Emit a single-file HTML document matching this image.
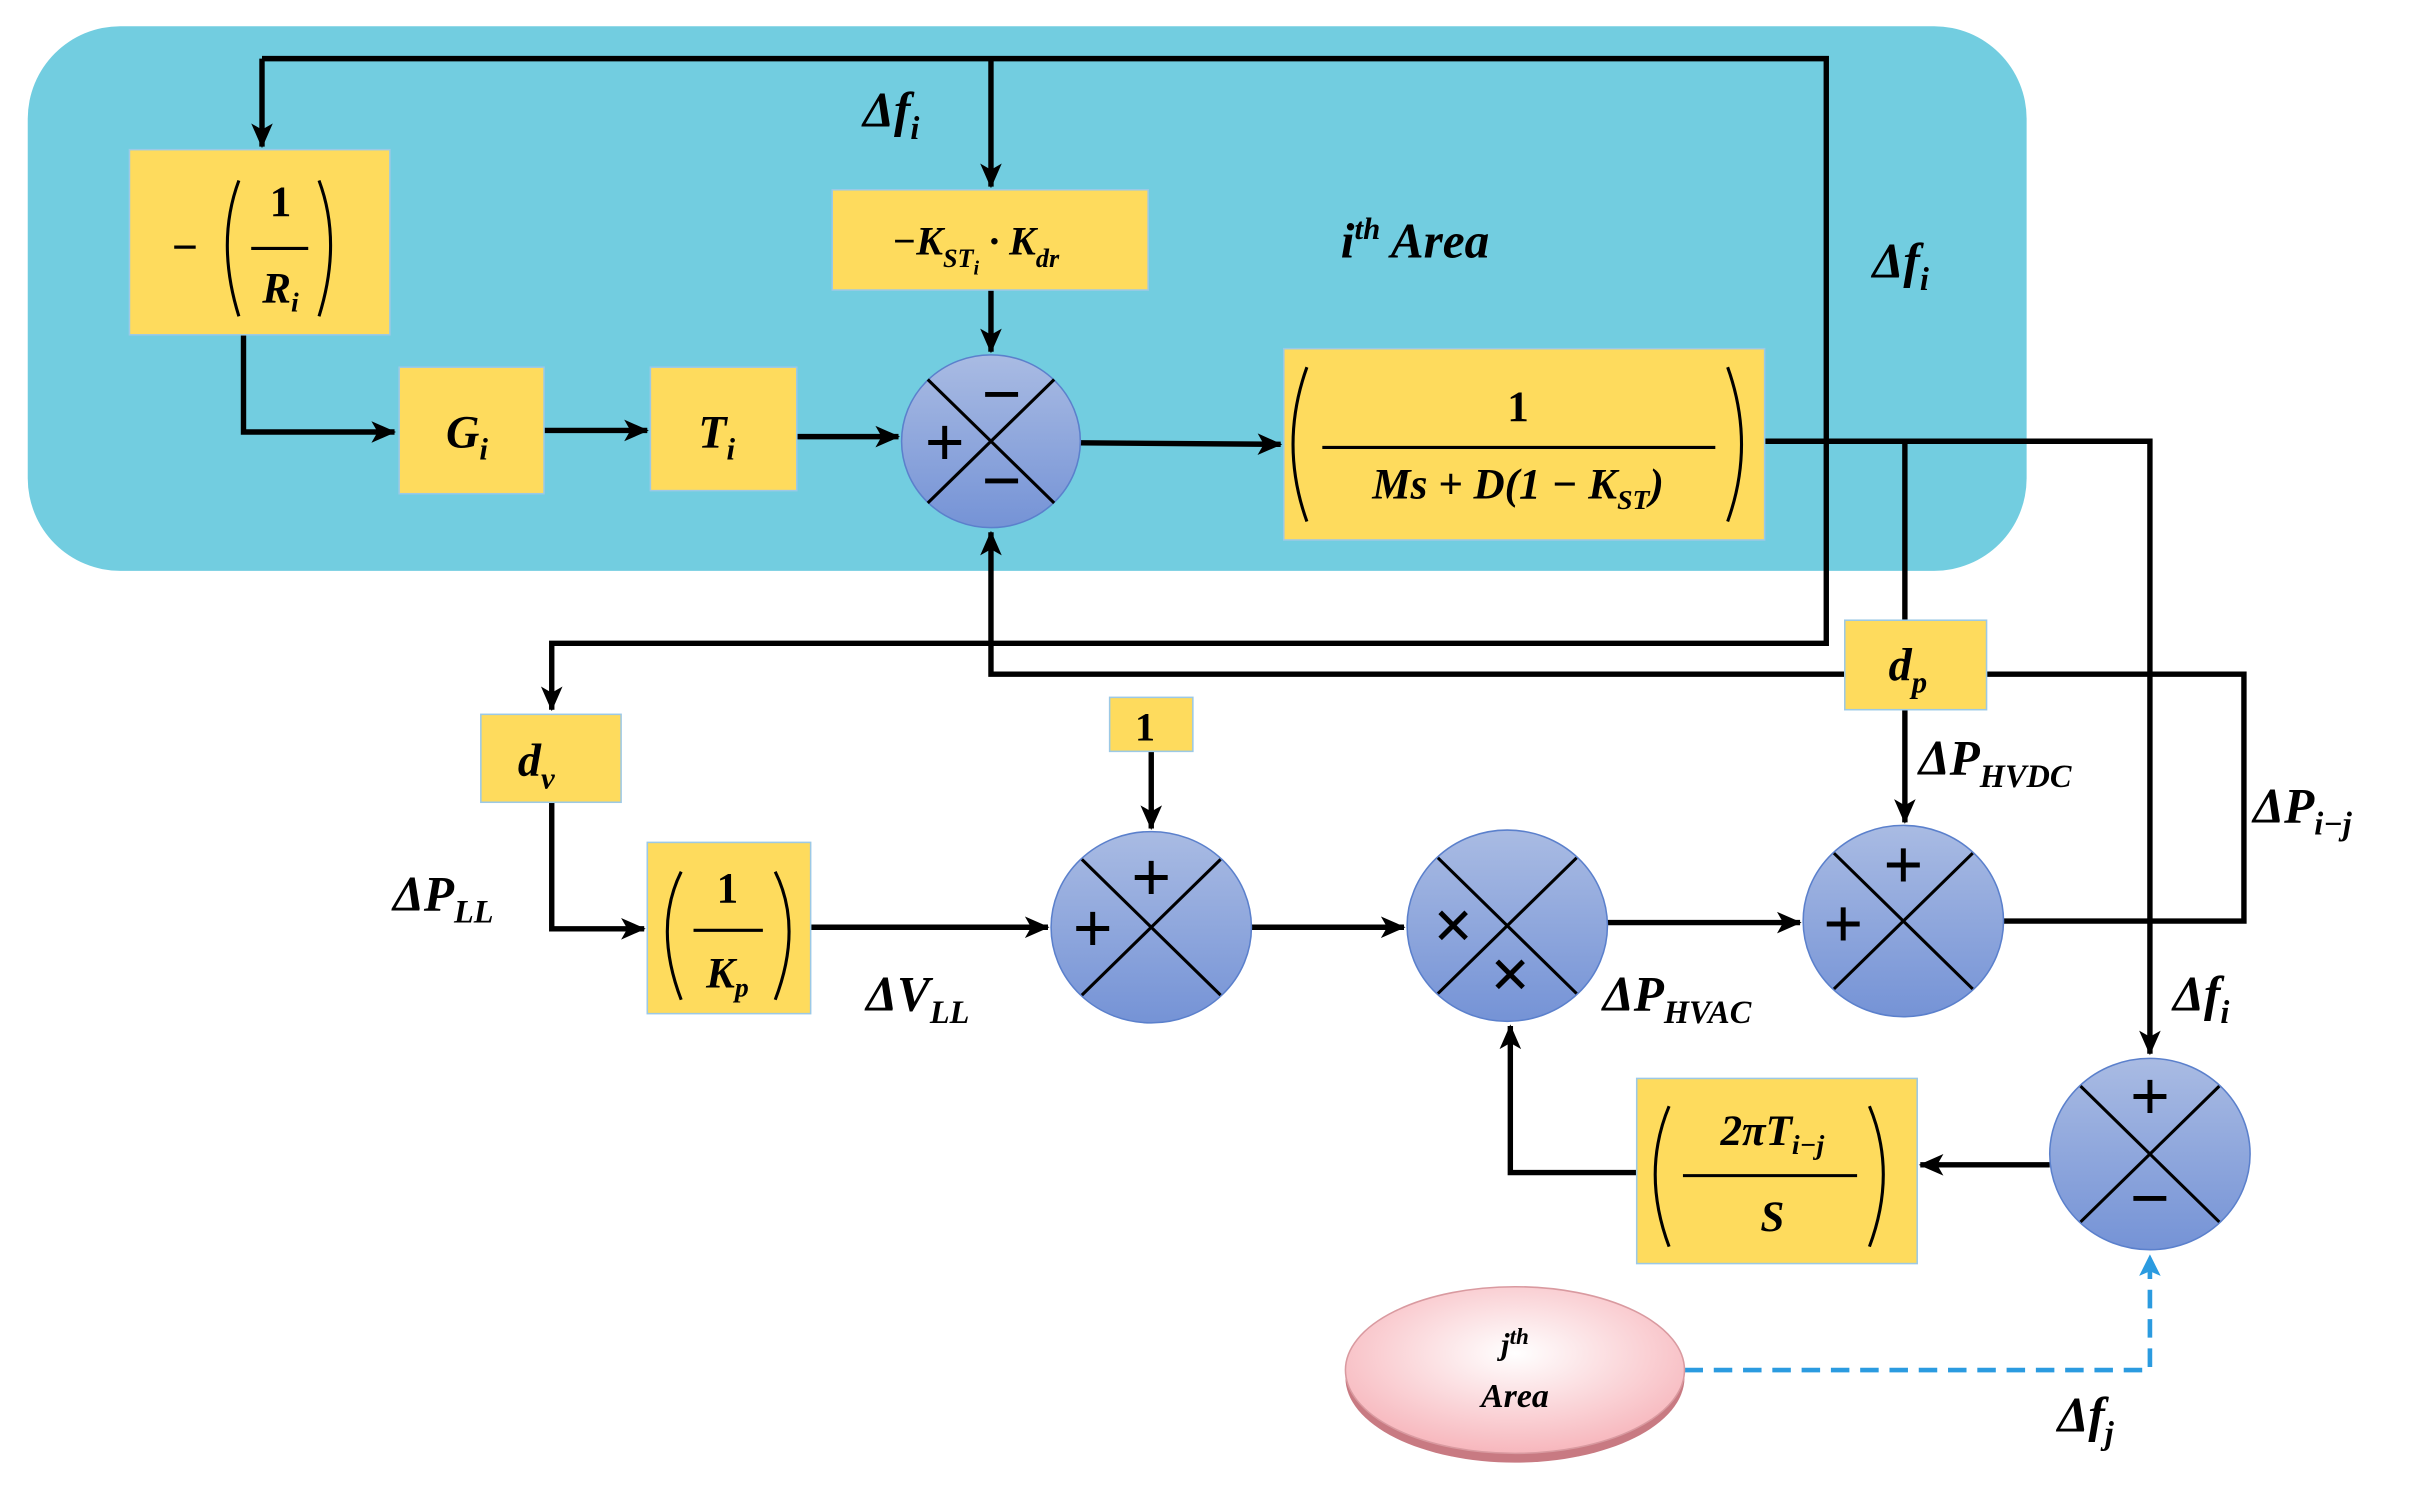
<!DOCTYPE html>
<html><head><meta charset="utf-8"><style>
html,body{margin:0;padding:0;background:#fff;width:2415px;height:1495px;overflow:hidden}
svg{display:block}
text{font-family:"Liberation Serif",serif;font-style:italic;font-weight:bold;fill:#000}
</style></head><body>
<svg width="2415" height="1495" viewBox="0 0 1567 969" preserveAspectRatio="none" xmlns="http://www.w3.org/2000/svg">
<defs>
<linearGradient id="g" x1="0" y1="0" x2="0" y2="1"><stop offset="0" stop-color="#a9bbe3"/><stop offset="1" stop-color="#7593d6"/></linearGradient>
<radialGradient id="p" cx="0.5" cy="0.4" r="0.6"><stop offset="0" stop-color="#fff"/><stop offset="1" stop-color="#f7b7bd"/></radialGradient>
<marker id="a" markerWidth="16" markerHeight="16" refX="15" refY="8" orient="auto" markerUnits="userSpaceOnUse"><path d="M0,1 L16,8 L0,15 L4,8 Z" fill="#000"/></marker>
<marker id="b" markerWidth="14" markerHeight="14" refX="13" refY="7" orient="auto" markerUnits="userSpaceOnUse"><path d="M0,0 L14,7 L0,14 L3,7 Z" fill="#2b9be0"/></marker>
</defs>
<rect x="18" y="17" width="1297" height="353" rx="60" fill="#72cde0"/>
<g stroke="#000" stroke-width="3.5" fill="none">
<polyline points="170,38 1185,38 1185,417 358,417 358,460" marker-end="url(#a)"/>
<line x1="170" y1="38" x2="170" y2="95" marker-end="url(#a)"/>
<line x1="643" y1="38" x2="643" y2="121" marker-end="url(#a)"/>
<line x1="643" y1="188" x2="643" y2="228" marker-end="url(#a)"/>
<polyline points="158,217 158,280 256,280" marker-end="url(#a)"/>
<line x1="353" y1="279" x2="420" y2="279" marker-end="url(#a)"/>
<line x1="517" y1="283" x2="583" y2="283" marker-end="url(#a)"/>
<line x1="701" y1="287" x2="831" y2="288" marker-end="url(#a)"/>
<polyline points="1145,286 1395,286 1395,683" marker-end="url(#a)"/>
<line x1="1236" y1="286" x2="1236" y2="402"/>
<line x1="1236" y1="460" x2="1236" y2="533" marker-end="url(#a)"/>
<polyline points="1289,437 1456,437 1456,597 1300,597"/>
<polyline points="1197,437 643,437 643,345" marker-end="url(#a)"/>
<polyline points="358,520 358,602 418,602" marker-end="url(#a)"/>
<line x1="526" y1="601" x2="680" y2="601" marker-end="url(#a)"/>
<line x1="747" y1="487" x2="747" y2="537" marker-end="url(#a)"/>
<line x1="812" y1="601" x2="911" y2="601" marker-end="url(#a)"/>
<line x1="1043" y1="598" x2="1168" y2="598" marker-end="url(#a)"/>
<line x1="1330" y1="755" x2="1246" y2="755" marker-end="url(#a)"/>
<polyline points="1062,760 980,760 980,665" marker-end="url(#a)"/>
</g>
<polyline points="1093,888 1395,888 1395,814" stroke="#2b9be0" stroke-width="3" stroke-dasharray="12,7" fill="none" marker-end="url(#b)"/>
<g fill="#fedb5d" stroke="#9cc9e6" stroke-width="1">
<rect x="84" y="97" width="169" height="120"/>
<rect x="540" y="123" width="205" height="65"/>
<rect x="259" y="238" width="94" height="82"/>
<rect x="422" y="238" width="95" height="80"/>
<rect x="833" y="226" width="312" height="124"/>
<rect x="1197" y="402" width="92" height="58"/>
<rect x="312" y="463" width="91" height="57"/>
<rect x="720" y="452" width="54" height="35"/>
<rect x="420" y="546" width="106" height="111"/>
<rect x="1062" y="699" width="182" height="120"/>
</g>
<g stroke="#5b80cc" stroke-width="1" fill="url(#g)">
<ellipse cx="643" cy="286" rx="58" ry="56"/>
<ellipse cx="747" cy="601" rx="65" ry="62"/>
<ellipse cx="978" cy="600" rx="65" ry="62"/>
<ellipse cx="1235" cy="597" rx="65" ry="62"/>
<ellipse cx="1395" cy="748" rx="65" ry="62"/>
</g>
<g stroke="#000" stroke-width="2">
<line x1="602" y1="246" x2="684" y2="326"/><line x1="684" y1="246" x2="602" y2="326"/>
<line x1="702" y1="557" x2="792" y2="645"/><line x1="792" y1="557" x2="702" y2="645"/>
<line x1="933" y1="556" x2="1023" y2="644"/><line x1="1023" y1="556" x2="933" y2="644"/>
<line x1="1190" y1="553" x2="1280" y2="641"/><line x1="1280" y1="553" x2="1190" y2="641"/>
<line x1="1350" y1="704" x2="1440" y2="792"/><line x1="1440" y1="704" x2="1350" y2="792"/>
</g>
<ellipse cx="983" cy="893" rx="110" ry="55" fill="#c87a82"/>
<ellipse cx="983" cy="888" rx="110" ry="54" fill="url(#p)" stroke="#d99aa0"/>
<g font-size="46" text-anchor="middle">
<text x="650" y="271" style="font-style:normal">−</text><text x="650" y="327" style="font-style:normal">−</text><text x="613" y="302" style="font-style:normal">+</text>
<text x="747" y="584" style="font-style:normal">+</text><text x="709" y="617" style="font-style:normal">+</text>
<text x="943" y="615" style="font-style:normal">×</text><text x="980" y="647" style="font-style:normal">×</text>
<text x="1235" y="576" style="font-style:normal">+</text><text x="1196" y="614" style="font-style:normal">+</text>
<text x="1395" y="726" style="font-style:normal">+</text><text x="1395" y="792" style="font-style:normal">−</text>
</g>
<g font-size="30" text-anchor="middle">
<text x="303" y="290">G<tspan font-size="20" dy="8">i</tspan></text>
<text x="465" y="290">T<tspan font-size="20" dy="8">i</tspan></text>
<text x="348" y="503">d<tspan font-size="20" dy="8">v</tspan></text>
<text x="1238" y="441">d<tspan font-size="20" dy="8">p</tspan></text>
<text x="743" y="480" font-size="26" style="font-style:normal">1</text>
<text x="633" y="165" font-size="26">−K<tspan font-size="17" dy="8">ST</tspan><tspan font-size="13" dy="5">i</tspan><tspan dy="-13"> · K</tspan><tspan font-size="17" dy="8">dr</tspan></text>
<text x="120" y="170" font-size="30" style="font-style:normal">−</text>
<text x="182" y="140" font-size="28" style="font-style:normal">1</text>
<text x="182" y="196" font-size="28">R<tspan font-size="18" dy="6">i</tspan></text>
<text x="985" y="273" font-size="28" style="font-style:normal">1</text>
<text x="985" y="323" font-size="28">Ms + D(1 − K<tspan font-size="18" dy="7">ST</tspan><tspan dy="-7">)</tspan></text>
<text x="472" y="585" font-size="28" style="font-style:normal">1</text>
<text x="472" y="640" font-size="28">K<tspan font-size="18" dy="6">p</tspan></text>
<text x="1150" y="742" font-size="28">2πT<tspan font-size="18" dy="6">i−j</tspan></text>
<text x="1150" y="798" font-size="28">S</text>
<text x="983" y="878" font-size="20">j<tspan font-size="15" dy="-7">th</tspan></text>
<text x="983" y="912" font-size="22">Area</text>
</g>
<g stroke="#000" stroke-width="2" fill="none">
<line x1="163" y1="161" x2="200" y2="161"/>
<path d="M155,117 Q140,157 155,205"/><path d="M207,117 Q222,157 207,205"/>
<line x1="858" y1="290" x2="1113" y2="290"/>
<path d="M848,238 Q830,288 848,338"/><path d="M1121,238 Q1139,288 1121,338"/>
<line x1="450" y1="603" x2="495" y2="603"/>
<path d="M442,565 Q424,601 442,648"/><path d="M503,565 Q521,601 503,648"/>
<line x1="1092" y1="762" x2="1205" y2="762"/>
<path d="M1083,717 Q1065,760 1083,808"/><path d="M1213,717 Q1231,760 1213,808"/>
</g>
<g font-size="32">
<text x="560" y="82">Δf<tspan font-size="21" dy="8">i</tspan></text>
<text x="870" y="167">i<tspan font-size="20" dy="-12">th</tspan><tspan dy="12"> Area</tspan></text>
<text x="1215" y="180">Δf<tspan font-size="21" dy="8">i</tspan></text>
<text x="1245" y="502">ΔP<tspan font-size="21" dy="8">HVDC</tspan></text>
<text x="1462" y="533">ΔP<tspan font-size="21" dy="8">i−j</tspan></text>
<text x="255" y="590">ΔP<tspan font-size="21" dy="8">LL</tspan></text>
<text x="562" y="655">ΔV<tspan font-size="21" dy="8">LL</tspan></text>
<text x="1040" y="655">ΔP<tspan font-size="21" dy="8">HVAC</tspan></text>
<text x="1410" y="655">Δf<tspan font-size="21" dy="8">i</tspan></text>
<text x="1335" y="928">Δf<tspan font-size="21" dy="8">j</tspan></text>
</g>
</svg>
</body></html>
